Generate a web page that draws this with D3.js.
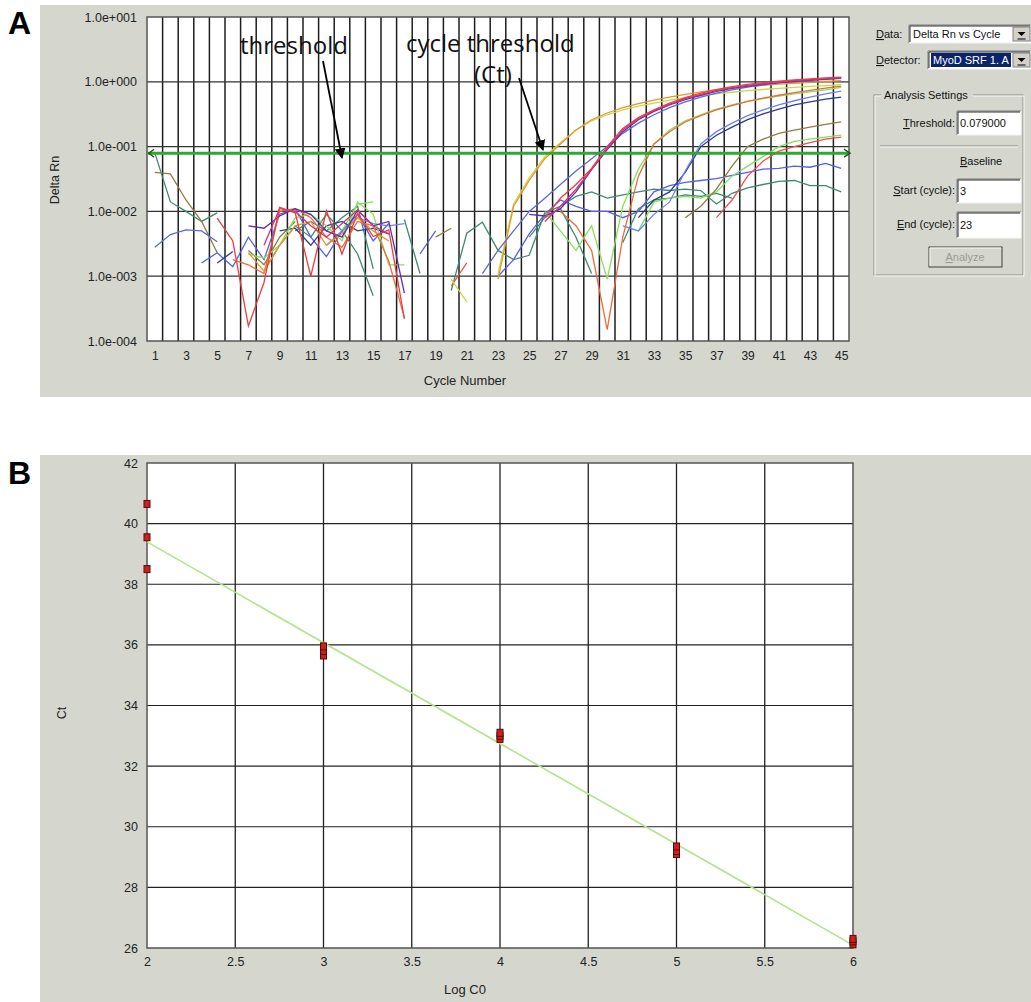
<!DOCTYPE html>
<html><head><meta charset="utf-8">
<script src="https://cdn.jsdelivr.net/npm/d3@7/dist/d3.min.js"></script>
<style>body{margin:0;background:#fff}</style>
</head><body><svg id="chart" width="1031" height="1002"></svg>
<script>
const _ = null;
// ---------- Panel A data ----------
const cycles = d3.range(1, 46);
const yTicksA = [1e1, 1e0, 1e-1, 1e-2, 1e-3, 1e-4];
const yTickLabelsA = ["1.0e+001", "1.0e+000", "1.0e-001", "1.0e-002", "1.0e-003", "1.0e-004"];
const xTicksA = d3.range(1, 46, 2);
const threshold = 0.079;

const redTop = [_,_,_,_,7.9e-3, 3.5e-3,1.7e-4,8e-4,1.15e-2,9.5e-3, 1.0e-3,1.02e-2,2.2e-3,9.4e-3,4.1e-3, 5.2e-3,2.2e-4,_,_,_, _,_,_,_,_, 8e-3,1.6e-2,2.6e-2,4.6e-2,0.1, 0.19,0.28,0.37,0.47,0.57, 0.67,0.76,0.84,0.91,0.97, 1.02,1.07,1.11,1.15,1.18];
const magentaTop = [_,_,_,_,_, _,_,3e-3,1.1e-2,1.0e-2, 6e-3,4e-3,6.5e-3,1.05e-2,6e-3, 4.5e-3,_,_,_,_, _,_,_,_,_, 7e-3,1.2e-2,2.2e-2,4.5e-2,9.5e-2, 0.18,0.27,0.36,0.45,0.55, 0.64,0.73,0.81,0.88,0.94, 0.99,1.04,1.08,1.12,1.16];
const purpleTop = [_,_,_,_,_, _,6e-3,5.5e-3,8.5e-3,1.1e-2, 9e-3,5e-3,4e-3,1.05e-2,6e-3, 7e-3,5.5e-4,_,_,_, _,_,_,_,9e-3, 8.5e-3,1.1e-2,2e-2,4.4e-2,9e-2, 0.17,0.26,0.35,0.44,0.53, 0.62,0.71,0.79,0.86,0.92, 0.97,1.02,1.06,1.10,1.14];
const orangeEarly = [_,_,_,_,_, _,2.3e-3,1.2e-3,3e-3,6e-3, 7e-3,3e-3,4.5e-3,8e-3,5e-3, 3.5e-3,_,_,_,_, _,_,9e-4,1.2e-2,3e-2, 6.5e-2,0.11,0.18,0.26,0.33, 0.40,0.46,0.52,0.58,0.64, 0.70,0.76,0.80,0.84,0.88, 0.92,0.95,0.98,1.01,1.04];
const yellowEarly = [_,_,_,_,_, _,_,_,_,_, _,_,_,_,_, _,_,_,_,9e-4, 4e-4,_,1.1e-3,1.3e-2,3.3e-2, 7e-2,0.115,0.18,0.25,0.31, 0.37,0.42,0.47,0.52,0.57, 0.61,0.65,0.69,0.73,0.76, 0.79,0.82,0.85,0.87,0.90];
const orangeMid = [_,_,_,_,_, 1.8e-3,1.5e-3,1.1e-3,1.0e-2,1.1e-2, 8e-3,4e-3,2.8e-3,7e-3,6e-3, 1.7e-3,2.3e-4,_,_,_, _,_,_,_,_, _,1e-2,6e-3,2.5e-3,1.5e-4, 4e-3,3.5e-2,0.11,0.17,0.24, 0.30,0.37,0.43,0.50,0.56, 0.62,0.68,0.74,0.80,0.86];
const greenMid = [_,_,_,_,_, _,2.2e-3,1.9e-3,3e-3,8e-3, 9e-3,6e-3,3.5e-3,1.4e-2,9e-3, 1.5e-3,1.5e-3,_,_,_, _,_,_,_,_, 1e-2,5e-3,2.5e-3,6e-3,9e-4, 1.2e-2,4.5e-2,0.11,0.18,0.25, 0.31,0.38,0.44,0.50,0.55, 0.60,0.65,0.70,0.75,0.82];
const navyLate = [_,_,_,_,1.6e-3, 2.4e-3,_,_,5e-3,5.5e-3, 3e-3,6e-3,7e-3,5e-3,5.5e-3, 4.5e-3,_,_,_,_, _,_,_,_,_, _,_,_,_,_, _,8e-3,1.5e-2,2e-2,4e-2, 0.10,0.15,0.20,0.26,0.32, 0.38,0.44,0.49,0.54,0.58];
const lightBlueLate = [_,_,_,_,_, _,_,_,_,_, _,3e-3,5e-3,8e-3,6.5e-3, 6e-3,6.5e-3,_,_,_, _,_,_,_,_, _,_,_,_,_, 6e-3,5e-3,9e-3,1.4e-2,4.2e-2, 0.11,0.17,0.23,0.30,0.37, 0.44,0.51,0.58,0.65,0.72];
const blueEarly = [2.8e-3,4.4e-3,5.2e-3,5.0e-3,3.4e-3, _,_,_,_,_, _,_,_,_,_, _,_,_,_,_, _,1.1e-3,2.5e-3,5e-3,1e-2, 1.6e-2,2.6e-2,4.2e-2,6.5e-2,0.1, 0.16,0.23,0.31,0.40,0.49, 0.58,0.67,0.75,0.83,0.90, 0.96,1.01,1.05,1.09,1.13];
const blueLow = [_,_,_,1.6e-3,2.3e-3, 1.4e-3,4e-3,1.8e-3,9e-3,1.1e-2, 4e-3,2e-3,5e-3,9e-3,3.5e-3, 6.5e-3,_,2.2e-3,5e-3,_, _,_,1e-3,1.8e-3,4.5e-3, 9e-3,1.5e-2,1.2e-2,1e-2,1e-2, 8e-3,1e-2,2e-2,2.5e-2,2.8e-2, 3e-2,3.2e-2,3.6e-2,4e-2,4.5e-2, 4.6e-2,5e-2,4.8e-2,5.5e-2,4.6e-2];
const tealLow = [8e-2,1.4e-2,1e-2,7e-3,9.5e-3, _,_,_,_,5e-3, 7e-3,5e-3,8e-3,1.2e-2,1.3e-3, _,7.5e-3,1.1e-3,_,6e-4, 4.6e-3,6.8e-3,2.5e-3,1.8e-3,2.1e-3, 9.5e-3,1.2e-2,1.7e-2,2e-2,1.6e-2, 1.8e-2,2e-2,2.2e-2,2.1e-2,2.2e-2, 2.1e-2,1.3e-2,1.9e-2,2.3e-2,2.6e-2, 2.9e-2,3e-2,2.5e-2,2.5e-2,2e-2];
const tealDip = [_,_,_,_,_, _,_,1.2e-3,3e-3,6e-3, 4e-3,9e-3,5e-3,2.2e-3,5e-4, _,_,_,_,_, _,_,_,_,4e-3, 8e-3,1.1e-2,4e-3,1.1e-3,_, 3.3e-3,1.1e-2,1.5e-2,1.6e-2,1.8e-2, 1.7e-2,1.9e-2,1.6e-2,_,_, _,_,_,_,_];
const olive = [4e-2,3.8e-2,1.5e-2,7e-3,2.3e-3, _,2.5e-3,1.5e-3,4e-3,7e-3, _,_,_,_,_, _,_,_,4e-3,5.5e-3, _,_,_,_,_, _,_,_,_,_, _,_,_,_,8e-3, 1.2e-2,2.2e-2,5e-2,0.1,0.13, 0.16,0.18,0.20,0.22,0.24];
const redLate = [_,_,_,_,_, _,_,_,_,_, _,_,_,_,_, _,_,_,_,7e-4, 1.6e-3,_,_,_,_, _,_,_,_,_, _,_,_,_,_, _,8e-3,1.5e-2,3.5e-2,6e-2, 8.5e-2,0.1,0.115,0.13,0.14];
const greenLate = [_,_,_,_,_, _,_,_,_,_, _,_,5e-3,1.3e-2,1.4e-2, _,_,_,_,_, _,_,_,_,_, _,_,_,_,_, _,5e-3,1.4e-2,1.6e-2,1.7e-2, 1.6e-2,2e-2,3.5e-2,5e-2,7e-2, 0.1,0.12,0.13,0.14,0.15];

// ---------- Panel B data ----------
const logC0 = [2,2,2, 3,3,3, 4,4,4, 5,5,5, 6,6,6];
const ctValues = [40.65,39.55,38.5, 35.65,35.8,35.95, 32.9,33.0,33.1, 29.1,29.2,29.35, 26.12,26.22,26.3];
const slope = -3.325554, intercept = 46.048542, r2 = 0.989355;
const xTicksB = [2,2.5,3,3.5,4,4.5,5,5.5,6];
const yTicksB = [26,28,30,32,34,36,38,40,42];

// ---------- drawing ----------
const FONT = '"Liberation Sans", Arial, sans-serif';
const PANEL = '#d5d7cf';
const svg = d3.select('#chart').style('font-family', FONT);
svg.append('rect').attr('width', 1031).attr('height', 1002).attr('fill', '#fff');

const defs = svg.append('defs');
defs.append('marker').attr('id', 'ah').attr('viewBox', '0 0 10 10').attr('refX', 9).attr('refY', 5)
  .attr('markerWidth', 6).attr('markerHeight', 6).attr('orient', 'auto')
  .append('path').attr('d', 'M0,0 L10,5 L0,10 Z').attr('fill', '#000');
defs.append('clipPath').attr('id', 'clipA').append('rect').attr('x', 147).attr('y', 17).attr('width', 702).attr('height', 324);

// Panel A
const gA = svg.append('g');
gA.append('rect').attr('x', 40).attr('y', 5).attr('width', 991).attr('height', 392).attr('fill', PANEL);
svg.append('text').attr('x', 8).attr('y', 34).attr('font-size', 32).attr('font-weight', 'bold').attr('font-family', 'Arial, "Liberation Sans"').text('A');

const xA = d3.scaleLinear().domain([0.5, 45.5]).range([147, 849]);
const yA = d3.scaleLog().domain([1e-4, 1e1]).range([341, 17]);

gA.append('rect').attr('x', 147).attr('y', 17).attr('width', 702).attr('height', 324).attr('fill', '#fff');
gA.append('g').selectAll('line').data(d3.range(1.5, 45, 1)).join('line')
  .attr('x1', d => xA(d)).attr('x2', d => xA(d)).attr('y1', 17).attr('y2', 341)
  .attr('stroke', '#1e1e1e').attr('stroke-width', 1.5);
gA.append('g').selectAll('line').data([1e0, 1e-1, 1e-2, 1e-3]).join('line')
  .attr('x1', 147).attr('x2', 849).attr('y1', d => yA(d)).attr('y2', d => yA(d))
  .attr('stroke', '#333').attr('stroke-width', 1.2);
gA.append('rect').attr('x', 147).attr('y', 17).attr('width', 702).attr('height', 324)
  .attr('fill', 'none').attr('stroke', '#555').attr('stroke-width', 1.5);

const axYA = gA.append('g').attr('transform', 'translate(147,0)')
  .call(d3.axisLeft(yA).tickValues(yTicksA).tickFormat((d, i) => yTickLabelsA[i]).tickSize(0).tickPadding(10));
axYA.select('.domain').remove();
axYA.selectAll('text').attr('font-size', 12.5).attr('font-family', FONT).attr('fill', '#222');
const axXA = gA.append('g').attr('transform', 'translate(0,341)')
  .call(d3.axisBottom(xA).tickValues(xTicksA).tickSize(0).tickPadding(10));
axXA.select('.domain').remove();
axXA.selectAll('text').attr('font-size', 12).attr('font-family', FONT).attr('fill', '#222');
gA.append('text').attr('x', 465).attr('y', 385).attr('text-anchor', 'middle').attr('font-size', 13).attr('fill', '#222').text('Cycle Number');
gA.append('text').attr('transform', 'translate(59,180) rotate(-90)').attr('text-anchor', 'middle').attr('font-size', 12.5).attr('fill', '#222').text('Delta Rn');

const seriesA = [
  {v: tealDip, c: '#3e8a72'}, {v: tealLow, c: '#3e8a72'}, {v: blueLow, c: '#5560e8'},
  {v: greenLate, c: '#7ee060'}, {v: redLate, c: '#f05050'}, {v: olive, c: '#8f7d45'},
  {v: navyLate, c: '#2c3c90'}, {v: lightBlueLate, c: '#7080f0'},
  {v: greenMid, c: '#86e05a'}, {v: orangeMid, c: '#ec6a3c'},
  {v: yellowEarly, c: '#c8d848'}, {v: orangeEarly, c: '#e8962a'},
  {v: blueEarly, c: '#5a6ae0'}, {v: purpleTop, c: '#5a2db0'},
  {v: magentaTop, c: '#d8307a'}, {v: redTop, c: '#ee3b3b'}
];
const lineA = d3.line().defined(d => d[1] != null).x(d => xA(d[0])).y(d => yA(d[1]));
gA.append('g').attr('clip-path', 'url(#clipA)').selectAll('path').data(seriesA).join('path')
  .attr('d', s => lineA(cycles.map((c, i) => [c, s.v[i]])))
  .attr('fill', 'none').attr('stroke', s => s.c).attr('stroke-width', 1.3);

// threshold line
gA.append('line').attr('x1', 147).attr('x2', 849).attr('y1', yA(threshold)).attr('y2', yA(threshold))
  .attr('stroke', '#2ea82e').attr('stroke-width', 3);
const ty = yA(threshold);
gA.append('path').attr('d', `M154,${ty-4} L149,${ty} L154,${ty+4}`).attr('fill', 'none').attr('stroke', '#1d5a1d').attr('stroke-width', 1.5);
gA.append('path').attr('d', `M844,${ty-4} L850,${ty} L844,${ty+4}`).attr('fill', 'none').attr('stroke', '#1d5a1d').attr('stroke-width', 1.5);

// annotations
const ANN = '"Open Sans", "DejaVu Sans", sans-serif';
gA.append('text').attr('x', 240).attr('y', 54).attr('font-size', 24).attr('font-family', ANN).attr('fill', '#111').text('threshold');
gA.append('text').attr('x', 406).attr('y', 52).attr('font-size', 24).attr('font-family', ANN).attr('fill', '#111').text('cycle threshold');
gA.append('text').attr('x', 474).attr('y', 83).attr('font-size', 24).attr('font-family', ANN).attr('fill', '#111').text('(Ct)');
gA.append('line').attr('x1', 323).attr('y1', 61).attr('x2', 342).attr('y2', 158).attr('stroke', '#000').attr('stroke-width', 1.8).attr('marker-end', 'url(#ah)');
gA.append('line').attr('x1', 519).attr('y1', 78).attr('x2', 543).attr('y2', 150).attr('stroke', '#000').attr('stroke-width', 1.8).attr('marker-end', 'url(#ah)');

// UI helpers
function ulabel(g, x, y, first, rest, anchor) {
  const t = g.append('text').attr('x', x).attr('y', y).attr('font-size', 11).attr('fill', '#111').attr('text-anchor', anchor || 'start');
  t.append('tspan').attr('text-decoration', 'underline').text(first);
  t.append('tspan').text(rest);
  return t;
}
function sunken(g, x, y, w, h) {
  g.append('rect').attr('x', x).attr('y', y).attr('width', w).attr('height', h).attr('fill', '#fff');
  g.append('path').attr('d', `M${x},${y+h} V${y} H${x+w}`).attr('fill', 'none').attr('stroke', '#7a7a7a').attr('stroke-width', 1);
  g.append('path').attr('d', `M${x+1},${y+h-1} V${y+1} H${x+w-1}`).attr('fill', 'none').attr('stroke', '#303030').attr('stroke-width', 1);
  g.append('path').attr('d', `M${x},${y+h} H${x+w} V${y}`).attr('fill', 'none').attr('stroke', '#f4f4f4').attr('stroke-width', 1);
}
function dropButton(g, x, y, w, h) {
  g.append('rect').attr('x', x).attr('y', y).attr('width', w).attr('height', h).attr('fill', '#d4d0c8').attr('stroke', '#808080');
  const cx = x + w / 2, cy = y + h / 2;
  g.append('path').attr('d', `M${cx-4},${cy-2} L${cx+4},${cy-2} L${cx},${cy+2} Z`).attr('fill', '#000');
  g.append('line').attr('x1', cx - 4).attr('x2', cx + 4).attr('y1', cy + 5).attr('y2', cy + 5).attr('stroke', '#000');
}
const ui = svg.append('g');
ulabel(ui, 876, 38, 'D', 'ata:');
sunken(ui, 909, 25, 122, 18);
ui.append('text').attr('x', 913).attr('y', 38).attr('font-size', 11).attr('fill', '#111').text('Delta Rn vs Cycle');
dropButton(ui, 1013, 27, 17, 14);
ulabel(ui, 876, 64, 'D', 'etector:');
sunken(ui, 928, 51, 103, 18);
ui.append('rect').attr('x', 931).attr('y', 53).attr('width', 80).attr('height', 14).attr('fill', '#0a246a');
ui.append('text').attr('x', 933).attr('y', 64).attr('font-size', 11).attr('fill', '#fff').text('MyoD SRF 1. A');
dropButton(ui, 1013, 53, 17, 14);
// group box
ui.append('rect').attr('x', 874).attr('y', 95).attr('width', 149).attr('height', 180).attr('fill', 'none').attr('stroke', '#8a8a86');
ui.append('rect').attr('x', 875).attr('y', 96).attr('width', 149).attr('height', 180).attr('fill', 'none').attr('stroke', '#fafafa');
ui.append('rect').attr('x', 881).attr('y', 89).attr('width', 92).attr('height', 12).attr('fill', PANEL);
ui.append('text').attr('x', 884).attr('y', 99).attr('font-size', 11).attr('fill', '#111').text('Analysis Settings');
ulabel(ui, 955, 127, 'T', 'hreshold:', 'end');
sunken(ui, 957, 111, 64, 24);
ui.append('text').attr('x', 960).attr('y', 127).attr('font-size', 11).attr('fill', '#111').text('0.079000');
ui.append('line').attr('x1', 880).attr('x2', 1018).attr('y1', 146).attr('y2', 146).attr('stroke', '#8a8a86');
ui.append('line').attr('x1', 880).attr('x2', 1018).attr('y1', 147).attr('y2', 147).attr('stroke', '#fafafa');
ulabel(ui, 960, 165, 'B', 'aseline');
ulabel(ui, 955, 194, 'S', 'tart (cycle):', 'end');
sunken(ui, 957, 179, 64, 24);
ui.append('text').attr('x', 960).attr('y', 195).attr('font-size', 11).attr('fill', '#111').text('3');
ulabel(ui, 955, 228, 'E', 'nd (cycle):', 'end');
sunken(ui, 957, 212, 64, 26);
ui.append('text').attr('x', 960).attr('y', 229).attr('font-size', 11).attr('fill', '#111').text('23');
ui.append('rect').attr('x', 929).attr('y', 247).attr('width', 73).attr('height', 20).attr('fill', PANEL).attr('stroke', '#404040');
ui.append('path').attr('d', 'M930,266 V248 H1001').attr('fill', 'none').attr('stroke', '#fafafa');
ui.append('text').attr('x', 965).attr('y', 261).attr('text-anchor', 'middle').attr('font-size', 11).attr('fill', '#9a9a96')
  .call(t => { t.append('tspan').attr('text-decoration', 'underline').text('A'); t.append('tspan').text('nalyze'); });

// Panel B
const gB = svg.append('g');
gB.append('rect').attr('x', 40).attr('y', 455).attr('width', 991).attr('height', 547).attr('fill', PANEL);
svg.append('text').attr('x', 8).attr('y', 484).attr('font-size', 32).attr('font-weight', 'bold').attr('font-family', 'Arial, "Liberation Sans"').text('B');
const xB = d3.scaleLinear().domain([2, 6]).range([147, 853]);
const yB = d3.scaleLinear().domain([26, 42]).range([948, 463]);
gB.append('rect').attr('x', 147).attr('y', 463).attr('width', 706).attr('height', 485).attr('fill', '#fff');
gB.append('g').selectAll('line').data(xTicksB.slice(1, -1)).join('line')
  .attr('x1', d => xB(d)).attr('x2', d => xB(d)).attr('y1', 463).attr('y2', 948).attr('stroke', '#222').attr('stroke-width', 1.3);
gB.append('g').selectAll('line').data(yTicksB.slice(1, -1)).join('line')
  .attr('x1', 147).attr('x2', 853).attr('y1', d => yB(d)).attr('y2', d => yB(d)).attr('stroke', '#222').attr('stroke-width', 1.2);
gB.append('rect').attr('x', 147).attr('y', 463).attr('width', 706).attr('height', 485).attr('fill', 'none').attr('stroke', '#555').attr('stroke-width', 1.5);
const axYB = gB.append('g').attr('transform', 'translate(147,0)').call(d3.axisLeft(yB).tickValues(yTicksB).tickSize(0).tickPadding(9));
axYB.select('.domain').remove();
axYB.selectAll('text').attr('font-size', 12.5).attr('font-family', FONT).attr('fill', '#222');
const axXB = gB.append('g').attr('transform', 'translate(0,948)').call(d3.axisBottom(xB).tickValues(xTicksB).tickFormat(d3.format('')).tickSize(0).tickPadding(9));
axXB.select('.domain').remove();
axXB.selectAll('text').attr('font-size', 12.5).attr('font-family', FONT).attr('fill', '#222');
gB.append('text').attr('x', 465).attr('y', 994).attr('text-anchor', 'middle').attr('font-size', 13).attr('fill', '#222').text('Log C0');
gB.append('text').attr('transform', 'translate(66,713) rotate(-90)').attr('text-anchor', 'middle').attr('font-size', 12.5).attr('fill', '#222').text('Ct');
gB.append('line').attr('x1', xB(2)).attr('x2', xB(6)).attr('y1', yB(slope * 2 + intercept)).attr('y2', yB(slope * 6 + intercept))
  .attr('stroke', '#b2e48a').attr('stroke-width', 1.6);
gB.append('g').selectAll('rect').data(logC0.map((x, i) => [x, ctValues[i]])).join('rect')
  .attr('x', d => xB(d[0]) - 3).attr('y', d => yB(d[1]) - 3.5).attr('width', 6).attr('height', 7)
  .attr('fill', '#c8221e').attr('stroke', '#5a0a0a').attr('stroke-width', 1);

ulabel(ui, 874, 482, 'D', 'etector:');
sunken(ui, 928, 469, 103, 18);
ui.append('text').attr('x', 932).attr('y', 482).attr('font-size', 11).attr('fill', '#111').text('MyoD SRF 1. Am');
dropButton(ui, 1017, 471, 14, 14);
ui.append('text').attr('x', 874).attr('y', 510).attr('font-size', 11).attr('fill', '#111').attr('xml:space', 'preserve').text('Slope:  ' + slope.toFixed(6));
ui.append('text').attr('x', 874).attr('y', 539).attr('font-size', 11).attr('fill', '#111').attr('xml:space', 'preserve').text('Intercept:  ' + intercept.toFixed(6));
ui.append('text').attr('x', 874).attr('y', 567).attr('font-size', 11).attr('fill', '#111').attr('xml:space', 'preserve').text('R2:  ' + r2.toFixed(6));
</script></body></html>
